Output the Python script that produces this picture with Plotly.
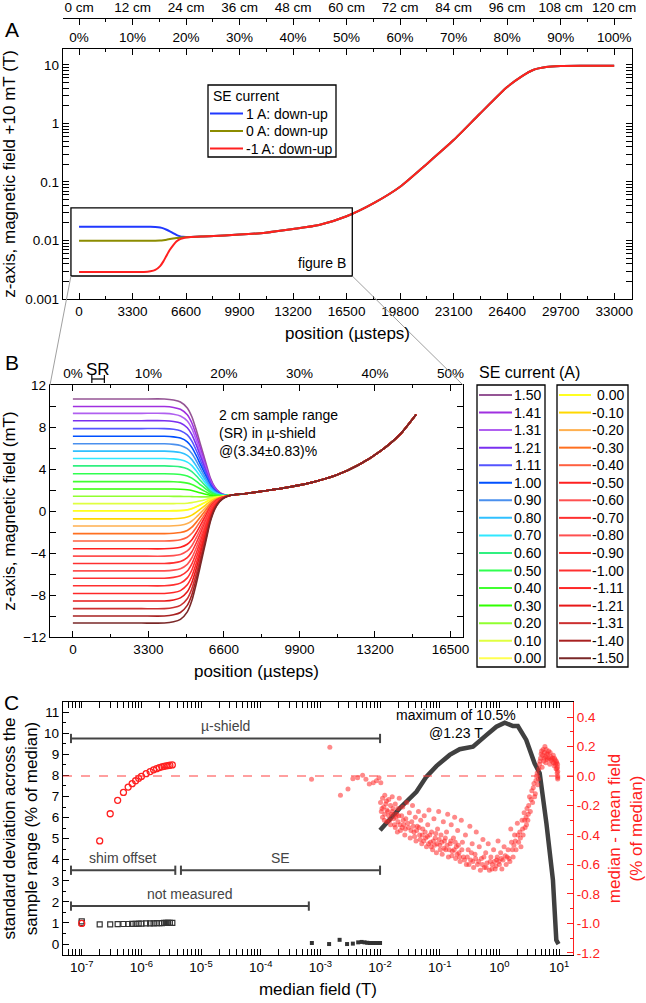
import math
import plotly.graph_objects as go

W, H = 646, 1003
FONT = "Liberation Sans, Arial, sans-serif"

def px(x):
    return x / W

def py(y):
    return 1 - y / H

# ---------------- Panel A data ----------------
A_X = [0, 2000, 4000, 4400, 4700, 5000, 5200, 5400, 5600, 5800, 6000, 6200, 6400, 6600, 6900,
       8000, 9900, 11500, 13200, 14800, 16500, 18200, 19800, 21500, 23100, 24700, 26400, 27300,
       28000, 28800, 29700, 31000, 33000]
A_BLEND = [1, 1, 1, 0.99, 0.97, 0.91, 0.82, 0.68, 0.52, 0.36, 0.2, 0.1, 0.045, 0.015, 0,
           0, 0, 0, 0, 0, 0, 0, 0, 0, 0, 0, 0, 0, 0, 0, 0, 0, 0]
A_TAIL = [0.0111, 0.0111, 0.0111, 0.0111, 0.0111, 0.0112, 0.0112, 0.0112, 0.0113, 0.0113, 0.0113,
          0.0113, 0.0113, 0.0114, 0.0115, 0.0118, 0.0126, 0.0136, 0.0157, 0.0184, 0.026, 0.044,
          0.083, 0.21, 0.52, 1.45, 4.2, 6.4, 8.2, 9.2, 9.6, 9.7, 9.7]
A_NAMES = ["1 A: down-up", "0 A: down-up", "-1 A: down-up"]
A_PLATEAU = [0.0172, 0.0099, 0.0029]
A_COLORS = ["#2038ff", "#8c8c00", "#ff2020"]

# ---------------- Panel B data ----------------
B_X = [0, 1000, 2000, 3000, 4000, 4400, 4700, 5000, 5200, 5400, 5600, 5800, 6000, 6200, 6400,
       6600, 6900, 7500, 8500, 9500, 10500, 11500, 12500, 13500, 14300, 15000]
B_BLEND = [1, 1, 1, 1, 1, 0.99, 0.97, 0.91, 0.82, 0.68, 0.52, 0.36, 0.2, 0.1, 0.045, 0.015,
           0, 0, 0, 0, 0, 0, 0, 0, 0, 0]
B_TAIL = [1.1, 1.1, 1.1, 1.1, 1.1, 1.12, 1.15, 1.2, 1.23, 1.26, 1.28, 1.31, 1.33, 1.36, 1.39,
          1.42, 1.5, 1.65, 1.95, 2.3, 2.75, 3.4, 4.4, 5.8, 7.3, 9.2]
B_LABELS_1 = ["1.50", "1.41", "1.31", "1.21", "1.11", "1.00", "0.90", "0.80", "0.70", "0.60",
              "0.50", "0.40", "0.30", "0.20", "0.10", "0.00"]
B_PLATEAU_1 = [10.67, 9.95, 9.3, 8.6, 7.85, 7.12, 6.4, 5.7, 5.0, 4.3, 3.55, 2.8, 2.1, 1.4, 0.7, 0.0]
B_COLORS_1 = ["#955595", "#a030e0", "#b060f0", "#7a30f0", "#5555ff", "#0050ff", "#4a90ee",
              "#30c0ff", "#30e8ff", "#30f080", "#30ff50", "#40ff30", "#30ff00", "#90ff30",
              "#e0ff40", "#ffff50"]
B_LABELS_2 = ["0.00", "-0.10", "-0.20", "-0.30", "-0.40", "-0.50", "-0.60", "-0.70", "-0.80",
              "-0.90", "-1.00", "-1.11", "-1.21", "-1.31", "-1.40", "-1.50"]
B_PLATEAU_2 = [0.02, -0.75, -1.43, -2.15, -2.86, -3.6, -4.3, -5.0, -5.7, -6.4, -7.12, -7.85,
               -8.57, -9.3, -10.0, -10.67]
B_COLORS_2 = ["#ffff20", "#ffd800", "#ffb050", "#ff7020", "#ff6040", "#ff2020", "#ff5050",
              "#ff3030", "#ff5050", "#ff3030", "#ff3030", "#ff2828", "#e81818", "#cc3030",
              "#a82020", "#7a2828"]
SR_CENTER, SR_ERR = 3.34, 0.83  # percent

# ---------------- Panel C data ----------------
C_SQ_X = [1e-7, 1e-7, 2e-7, 3e-7, 4e-7, 5e-7, 6e-7, 7e-7, 8e-7, 9e-7, 1e-6, 1.2e-6, 1.4e-6,
          1.6e-6, 1.8e-6, 2.0e-6, 2.2e-6, 2.4e-6, 2.6e-6, 2.8e-6, 3.0e-6, 3.3e-6]
C_SQ_Y = [1.08, 1.0, 0.93, 0.93, 0.94, 0.95, 0.95, 0.96, 0.96, 0.97, 0.97, 0.98, 0.98, 0.98,
          0.99, 0.99, 0.99, 1.0, 1.0, 1.0, 1.0, 1.0]
C_FS_X = [7.2e-4, 1.4e-3, 2.1e-3, 2.8e-3, 3.5e-3, 4.3e-3, 4.9e-3, 5.5e-3, 6.1e-3, 6.7e-3,
          7.3e-3, 8.0e-3, 8.7e-3, 9.4e-3, 1.0e-2]
C_FS_Y = [0.05, 0.0, 0.2, 0.0, 0.02, 0.08, 0.1, 0.08, 0.06, 0.05, 0.05, 0.05, 0.05, 0.05, 0.05]
C_LINE_X = [0.01, 0.0214, 0.0407, 0.06, 0.088, 0.147, 0.216, 0.361, 0.605, 0.89, 1.23, 1.69,
            2.04, 2.82, 3.89, 4.74, 6.14, 7.9, 9.0, 9.8]
C_LINE_Y = [5.4, 6.44, 7.22, 7.94, 8.44, 8.97, 9.24, 9.36, 9.91, 10.31, 10.5, 10.34, 10.34,
            9.68, 8.57, 8.1, 5.73, 3.04, 0.19, 0.0]
C_RC_X = [1e-7, 2e-7, 3e-7, 4e-7, 5e-7, 6e-7, 7e-7, 8e-7, 9e-7, 1e-6, 1.2e-6, 1.4e-6, 1.6e-6,
          1.8e-6, 2.0e-6, 2.2e-6, 2.4e-6, 2.6e-6, 2.8e-6, 3.0e-6, 3.3e-6]
C_RC_Y = [-1.0, -0.44, -0.256, -0.165, -0.111, -0.075, -0.052, -0.032, -0.016, -0.003, 0.016,
          0.03, 0.042, 0.05, 0.057, 0.062, 0.066, 0.069, 0.071, 0.073, 0.075]
C_DOT_X = [7.1e-4, 1.44e-3, 2.17e-3, 2.9e-3, 3.5e-3, 4.2e-3, 5.1e-3, 5.8e-3, 6.6e-3, 7.7e-3,
           8.7e-3, 9.6e-3, 1.03e-2,
           0.0102, 0.0105, 0.011, 0.011, 0.0115, 0.012, 0.012, 0.0125, 0.013, 0.013, 0.014, 0.014,
           0.015, 0.015, 0.016, 0.016, 0.017, 0.018, 0.018, 0.019, 0.02, 0.02, 0.021,
           0.022, 0.023, 0.024, 0.025, 0.026, 0.027, 0.028, 0.03, 0.031, 0.032, 0.034, 0.035,
           0.037, 0.039, 0.04, 0.042, 0.044, 0.046, 0.048,
           0.05, 0.052, 0.055, 0.058, 0.06, 0.063, 0.066, 0.07, 0.073, 0.076, 0.08, 0.084, 0.088,
           0.092, 0.096, 0.1, 0.105, 0.11, 0.115, 0.12, 0.126, 0.13, 0.136, 0.14, 0.15, 0.156,
           0.163, 0.17, 0.178, 0.185, 0.19,
           0.2, 0.21, 0.22, 0.23, 0.24, 0.25, 0.27, 0.28, 0.3, 0.32, 0.33, 0.35, 0.37, 0.39, 0.41,
           0.43, 0.46, 0.48, 0.5, 0.53, 0.56, 0.59, 0.62, 0.65, 0.68, 0.72, 0.76, 0.8, 0.85, 0.9,
           0.95,
           1.0, 1.05, 1.1, 1.15, 1.2, 1.3, 1.35, 1.4, 1.5, 1.55, 1.6, 1.7, 1.8, 1.9, 2.0, 2.1, 2.2,
           2.3, 2.4, 2.5, 2.6, 2.7, 2.8, 2.9, 3.0, 3.1, 3.2, 3.3, 3.5, 3.6, 3.8, 4.0, 4.2, 4.4,
           4.6, 4.8, 5.0, 5.2, 5.4, 5.6, 5.8, 6.0, 6.2, 6.4, 6.7, 7.0, 7.3, 7.6, 8.0, 8.3, 8.6,
           8.9, 9.1, 9.3, 9.4, 9.5, 9.5,
           0.0108, 0.0118, 0.0128, 0.0135, 0.0145, 0.0155, 0.0165, 0.0175, 0.0185, 0.0195, 0.0205,
           0.0215, 0.0235, 0.0245, 0.0265, 0.029, 0.033, 0.036, 0.038, 0.041, 0.045, 0.047, 0.051,
           0.054, 0.057, 0.062, 0.065, 0.068, 0.072, 0.078, 0.082, 0.086, 0.09, 0.098, 0.102,
           0.108, 0.118, 0.124, 0.133, 0.145, 0.153, 0.16, 0.175, 0.182, 0.195, 0.205, 0.215,
           0.235, 0.26, 0.29, 0.31, 0.34, 0.36, 0.4, 0.45, 0.52, 0.55, 0.6, 0.7, 0.75, 0.82, 0.88,
           0.92, 0.98, 1.08, 1.25, 1.45, 1.65, 1.75, 1.85, 2.05, 2.25, 2.45, 2.65, 2.85, 3.05, 3.4,
           3.7, 3.9, 4.1, 4.3, 4.5, 4.7, 4.9, 5.1, 5.3, 5.5, 5.7, 5.9, 6.1, 6.3, 6.5, 6.8, 7.1,
           7.4, 7.8, 8.1, 8.4, 8.7, 9.0, 9.2, 9.45, 9.5, 9.5]
C_DOT_Y = [-0.022, 0.195, -0.131, -0.088, -0.018, -0.011, 0.005, -0.022, -0.054, -0.045,
           -0.032, -0.011, -0.045,
           -0.18, -0.24, -0.15, -0.28, -0.21, -0.13, -0.26, -0.19, -0.31, -0.23, -0.16, -0.27,
           -0.2, -0.33, -0.24, -0.14, -0.29, -0.19, -0.35, -0.26, -0.22, -0.31, -0.15,
           -0.37, -0.27, -0.21, -0.33, -0.4, -0.29, -0.18, -0.35, -0.25, -0.42, -0.31, -0.2,
           -0.38, -0.28, -0.44, -0.34, -0.24, -0.4, -0.3,
           -0.46, -0.36, -0.27, -0.42, -0.48, -0.33, -0.23, -0.45, -0.38, -0.5, -0.29, -0.42,
           -0.52, -0.36, -0.24, -0.47, -0.4, -0.53, -0.31, -0.44, -0.5, -0.38, -0.26, -0.55,
           -0.46, -0.33, -0.51, -0.42, -0.28, -0.56, -0.48,
           -0.37, -0.52, -0.58, -0.3, -0.45, -0.55, -0.4, -0.6, -0.5, -0.34, -0.57, -0.46, -0.62,
           -0.53, -0.38, -0.6, -0.48, -0.64, -0.56, -0.43, -0.62, -0.52, -0.59, -0.46, -0.64,
           -0.55, -0.6, -0.5, -0.63, -0.57, -0.44,
           -0.6, -0.52, -0.63, -0.57, -0.48, -0.6, -0.55, -0.5, -0.58, -0.36, -0.45, -0.55, -0.4,
           -0.5, -0.32, -0.45, -0.38, -0.48, -0.3, -0.4, -0.25, -0.35, -0.28, -0.22, -0.3, -0.2,
           -0.14, -0.24, -0.1, -0.18, -0.05, -0.12, 0.0, -0.06, 0.05, 0.1, 0.15, 0.06, 0.18, 0.12,
           0.2, 0.09, 0.15, 0.11, 0.17, 0.08, 0.13, 0.1, 0.14, 0.07, 0.11, 0.05, 0.09, 0.02, 0.06,
           -0.02, 0.0,
           -0.22, -0.3, -0.17, -0.24, -0.3, -0.26, -0.22, -0.33, -0.28, -0.38, -0.27,
           -0.33, -0.35, -0.3, -0.36, -0.32, -0.37, -0.34, -0.41, -0.37, -0.35, -0.43, -0.4,
           -0.44, -0.38, -0.41, -0.46, -0.4, -0.48, -0.44, -0.47, -0.39, -0.46, -0.43, -0.5,
           -0.45, -0.49, -0.42, -0.47, -0.5, -0.44, -0.54, -0.5, -0.45, -0.53, -0.47, -0.55,
           -0.5, -0.57, -0.55, -0.6, -0.52, -0.58, -0.56, -0.58, -0.6, -0.55, -0.62, -0.58, -0.63,
           -0.58, -0.61, -0.55, -0.58, -0.56, -0.54, -0.56, -0.5, -0.47, -0.44, -0.4, -0.42, -0.36,
           -0.3, -0.33, -0.26, -0.16, -0.08, -0.14, -0.03, 0.02, -0.02, 0.08, 0.12, 0.17, 0.14,
           0.1, 0.16, 0.13, 0.18, 0.12, 0.15, 0.12, 0.16, 0.11, 0.12, 0.09, 0.12, 0.08, 0.1, 0.05,
           0.08, 0.03, -0.01]
C_BR_LABELS = ["µ-shield", "shim offset", "SE", "not measured"]
C_BR_X0 = [6.6e-8, 6.6e-8, 4.6e-6, 6.6e-8]
C_BR_X1 = [1e-2, 3.7e-6, 1e-2, 6.4e-4]
C_BR_Y = [9.75, 3.5, 3.5, 1.8]

# ---------------- geometry (pixels) ----------------
A_L, A_R, A_T, A_B = 63, 632, 49, 299
B_L, B_R, B_T, B_B = 50, 463, 385, 637
C_L, C_R, C_T, C_B = 63, 573, 702, 955
A_XR = [-990, 34100]
A_YR = [-3, 1.273]
B_XR = [-1000, 17050]
C_XR = [-7.314, 1.234]
C_YR = [-0.52, 11.48]
C_Y2R = [-1.214, 0.502]
STEPS_PER_PERCENT = 330
STEPS_PER_CM = 275

fig = go.Figure()

# Panel A traces
for name, plat, col in zip(A_NAMES, A_PLATEAU, A_COLORS):
    yv = [plat * b + t * (1 - b) for b, t in zip(A_BLEND, A_TAIL)]
    fig.add_trace(go.Scatter(x=A_X, y=yv, mode="lines", name=name, showlegend=False,
                             line=dict(color=col, width=2, shape="spline", smoothing=0.6),
                             xaxis="x", yaxis="y"))

# inset rectangle in A (figure B)
RX0, RX1, RY0, RY1 = -500, 16850, 0.00247, 0.036
fig.add_trace(go.Scatter(x=[RX0, RX1, RX1, RX0, RX0], y=[RY0, RY0, RY1, RY1, RY0], mode="lines",
                         line=dict(color="black", width=1.3), showlegend=False, hoverinfo="skip",
                         xaxis="x", yaxis="y"))

# empty traces so the secondary (top) axes are active
for xa, ya, rng in [("x2", "y", [0, 100]), ("x3", "y", [0, 120]), ("x7", "y", [0, 100]),
                    ("x5", "y4", [0, 50])]:
    fig.add_trace(go.Scatter(x=rng, y=[None, None], mode="markers", showlegend=False,
                             hoverinfo="skip", xaxis=xa, yaxis=ya))

# Panel B traces
for labels, plats, cols in [(B_LABELS_1, B_PLATEAU_1, B_COLORS_1),
                            (B_LABELS_2, B_PLATEAU_2, B_COLORS_2)]:
    for lab, plat, col in zip(labels, plats, cols):
        yv = [plat * b + t * (1 - b) for b, t in zip(B_BLEND, B_TAIL)]
        fig.add_trace(go.Scatter(x=B_X, y=yv, mode="lines", name=lab, showlegend=False,
                                 line=dict(color=col, width=1.6, shape="spline", smoothing=0.6),
                                 xaxis="x4", yaxis="y4"))

# Panel C traces
fig.add_trace(go.Scatter(x=C_DOT_X, y=C_DOT_Y, mode="markers", showlegend=False,
                         marker=dict(color="rgba(255,40,40,0.55)", size=5), xaxis="x6", yaxis="y7"))
fig.add_trace(go.Scatter(x=C_SQ_X, y=C_SQ_Y, mode="markers", showlegend=False,
                         marker=dict(symbol="square-open", color="#333333", size=5, line=dict(width=1.2)),
                         xaxis="x6", yaxis="y6"))
fig.add_trace(go.Scatter(x=C_FS_X, y=C_FS_Y, mode="markers", showlegend=False,
                         marker=dict(symbol="square", color="#333333", size=4),
                         xaxis="x6", yaxis="y6"))
fig.add_trace(go.Scatter(x=C_LINE_X, y=C_LINE_Y, mode="lines", showlegend=False,
                         line=dict(color="#404040", width=4.5), xaxis="x6", yaxis="y6"))
fig.add_trace(go.Scatter(x=C_RC_X, y=C_RC_Y, mode="markers", showlegend=False,
                         marker=dict(symbol="circle-open", color="#ff2020", size=6, line=dict(width=1.3)),
                         xaxis="x6", yaxis="y7"))

# brackets in C
for lab, x0, x1, yb in zip(C_BR_LABELS, C_BR_X0, C_BR_X1, C_BR_Y):
    fig.add_trace(go.Scatter(x=[x0, x1, None, x0, x0, None, x1, x1],
                             y=[yb, yb, None, yb - 0.22, yb + 0.22, None, yb - 0.22, yb + 0.22],
                             mode="lines", line=dict(color="#444444", width=2), showlegend=False,
                             hoverinfo="skip", xaxis="x6", yaxis="y6"))

annotations = []
shapes = []
for lab, x0, x1, yb in zip(C_BR_LABELS, C_BR_X0, C_BR_X1, C_BR_Y):
    annotations.append(dict(x=(math.log10(x0) + math.log10(x1)) / 2, y=yb + 0.12, xref="x6", yref="y6",
                            text=lab, showarrow=False, xanchor="center", yanchor="bottom",
                            font=dict(size=14, color="#444444")))

def paper_text(x, y, text, size=14, color="black", xanchor="center", align="center"):
    annotations.append(dict(x=px(x), y=py(y), xref="paper", yref="paper", text=text,
                            showarrow=False, xanchor=xanchor, yanchor="middle", align=align,
                            font=dict(size=size, color=color)))

paper_text(12, 30, "A", 21)
paper_text(12, 362, "B", 21)
paper_text(11, 702, "C", 21)
paper_text(348, 263, "figure B", xanchor="right")
paper_text(217, 433, "2 cm sample range<br>(SR) in µ-shield<br>@(3.34±0.83)%", xanchor="left", align="left")
annotations.append(dict(x=SR_CENTER, y=py(369), xref="x5", yref="paper", text="SR", showarrow=False,
                        xanchor="center", yanchor="middle", font=dict(size=17, color="black")))
annotations.append(dict(x=-0.73, y=10.42, xref="x6", yref="y6", text="maximum of 10.5%<br>@1.23 T",
                        showarrow=False, xanchor="center", yanchor="middle",
                        font=dict(size=14, color="black")))

# ---- legends (drawn as text + line samples) ----
def box(x0, y0, x1, y1):
    shapes.append(dict(type="rect", xref="paper", yref="paper", x0=px(x0), x1=px(x1),
                       y0=py(y1), y1=py(y0), line=dict(color="black", width=1.3),
                       fillcolor="white", layer="above"))

def entry(x_line0, x_line1, x_text, y, color, text, anchor):
    shapes.append(dict(type="line", xref="paper", yref="paper", x0=px(x_line0), x1=px(x_line1),
                       y0=py(y), y1=py(y), line=dict(color=color, width=2), layer="above"))
    paper_text(x_text, y, text, xanchor=anchor)

# legend A
box(208, 85, 336, 157)
paper_text(211, 96, "SE current", xanchor="left")
for i, (name, col) in enumerate(zip(A_NAMES, A_COLORS)):
    entry(210, 243, 244, 113.5 + 17.5 * i, col, name, "left")

# legend B
paper_text(529, 372, "SE current (A)", 16)
box(477, 385, 545, 667)
box(557, 385, 628, 667)
for i, (lab, col) in enumerate(zip(B_LABELS_1, B_COLORS_1)):
    entry(479, 512, 543, 395 + 17.55 * i, col, lab, "right")
for i, (lab, col) in enumerate(zip(B_LABELS_2, B_COLORS_2)):
    entry(559, 591, 626, 395 + 17.55 * i, col, lab, "right")

# SR bracket
SRy = py(379)
for xa, xb, ya, yb2 in [(SR_CENTER - SR_ERR, SR_CENTER + SR_ERR, SRy, SRy),
                        (SR_CENTER - SR_ERR, SR_CENTER - SR_ERR, SRy - 0.004, SRy + 0.004),
                        (SR_CENTER + SR_ERR, SR_CENTER + SR_ERR, SRy - 0.004, SRy + 0.004)]:
    shapes.append(dict(type="line", xref="x5", yref="paper", x0=xa, x1=xb, y0=ya, y1=yb2,
                       line=dict(color="black", width=1.2)))

# connector lines from inset rect to panel B
def a_xpix(v):
    return A_L + (v - A_XR[0]) / (A_XR[1] - A_XR[0]) * (A_R - A_L)

def a_ypix(v):
    return A_B - (math.log10(v) - A_YR[0]) / (A_YR[1] - A_YR[0]) * (A_B - A_T)

for (xa, ya), (xb, yb2) in [((a_xpix(RX0), a_ypix(RY0)), (B_L, B_T)),
                            ((a_xpix(RX1), a_ypix(RY0)), (B_R, B_T))]:
    shapes.append(dict(type="line", xref="paper", yref="paper", x0=px(xa), y0=py(ya),
                       x1=px(xb), y1=py(yb2), line=dict(color="#a0a0a0", width=1)))

# dashed zero line for the right axis of C
shapes.append(dict(type="line", xref="paper", yref="y7", x0=px(C_L), x1=px(C_R), y0=0, y1=0,
                   line=dict(color="#ff4040", width=1.2, dash="dash")))

tickfont = dict(size=13.5, color="black", family=FONT)
common = dict(showline=True, linecolor="black", linewidth=1.3, ticks="inside", ticklen=6,
              tickwidth=1.2, tickcolor="black", showgrid=False, zeroline=False, tickfont=tickfont,
              automargin=False)

def minor_ticks(vals, color="black"):
    return dict(tickmode="array", tickvals=vals, ticks="inside", ticklen=3, tickcolor=color)

def log_minor(lo, hi):
    vals = []
    for e in range(lo, hi + 1):
        for m in range(2, 10):
            vals.append(m * 10 ** e)
    return vals

A_TICKS = list(range(0, 33001, 3300))
B_TICKS = list(range(0, 16501, 3300))
PCT_A = list(range(0, 101, 10))
PCT_B = list(range(0, 51, 10))
CM_A = list(range(0, 121, 12))
PCT_RANGE_A = [A_XR[0] / STEPS_PER_PERCENT, A_XR[1] / STEPS_PER_PERCENT]

layout_axes = dict(
    xaxis=dict(domain=[px(A_L), px(A_R)], anchor="y", range=A_XR,
               tickmode="array", tickvals=A_TICKS, ticktext=[str(v) for v in A_TICKS],
               minor=minor_ticks(list(range(1650, 33000, 3300))),
               title=dict(text="position (µsteps)", font=dict(size=17), standoff=8), **common),
    yaxis=dict(domain=[py(A_B), py(A_T)], anchor="x", type="log", range=A_YR,
               tickmode="array", tickvals=[0.001, 0.01, 0.1, 1, 10],
               ticktext=["0.001", "0.01", "0.1", "1", "10"],
               minor=minor_ticks(log_minor(-3, 1)), mirror="allticks",
               title=dict(text="z-axis, magnetic field +10 mT (T)", font=dict(size=17), standoff=6),
               **common),
    # percent scale: ticks on the box top
    xaxis2=dict(overlaying="x", side="top", anchor="y", range=PCT_RANGE_A,
                tickmode="array", tickvals=PCT_A, showticklabels=False,
                minor=minor_ticks(list(range(5, 100, 10))), **common),
    # percent scale: labels a little above the box
    xaxis7=dict(overlaying="x", side="top", anchor="free", position=py(45), range=PCT_RANGE_A,
                tickmode="array", tickvals=PCT_A, ticktext=["%d%%" % v for v in PCT_A],
                showline=False, ticks="", showgrid=False, zeroline=False, tickfont=tickfont,
                automargin=False),
    xaxis3=dict(overlaying="x", side="top", anchor="free", position=py(18),
                range=[A_XR[0] / STEPS_PER_CM, A_XR[1] / STEPS_PER_CM],
                tickmode="array", tickvals=CM_A, ticktext=["%d cm" % v for v in CM_A],
                minor=minor_ticks(list(range(6, 120, 12))), **common),
    xaxis4=dict(domain=[px(B_L), px(B_R)], anchor="y4", range=B_XR,
                tickmode="array", tickvals=B_TICKS, ticktext=[str(v) for v in B_TICKS],
                minor=minor_ticks(list(range(1650, 17000, 3300))),
                title=dict(text="position (µsteps)", font=dict(size=17), standoff=8), **common),
    yaxis4=dict(domain=[py(B_B), py(B_T)], anchor="x4", range=[-12, 12],
                tickmode="array", tickvals=list(range(-12, 13, 4)),
                minor=minor_ticks(list(range(-10, 11, 4))), mirror="allticks",
                title=dict(text="z-axis, magnetic field (mT)", font=dict(size=17), standoff=6),
                **common),
    xaxis5=dict(overlaying="x4", side="top", anchor="y4",
                range=[B_XR[0] / STEPS_PER_PERCENT, B_XR[1] / STEPS_PER_PERCENT],
                tickmode="array", tickvals=PCT_B, ticktext=["%d%%" % v for v in PCT_B],
                minor=minor_ticks(list(range(5, 50, 10))), **common),
    xaxis6=dict(domain=[px(C_L), px(C_R)], anchor="y6", type="log", range=C_XR,
                tickmode="array", tickvals=[10 ** e for e in range(-7, 2)],
                ticktext=["10<sup>%d</sup>" % e for e in range(-7, 2)],
                minor=minor_ticks(log_minor(-8, 1)), mirror="allticks",
                title=dict(text="median field (T)", font=dict(size=17), standoff=8), **common),
    yaxis6=dict(domain=[py(C_B), py(C_T)], anchor="x6", range=C_YR,
                tickmode="array", tickvals=list(range(0, 12)),
                minor=minor_ticks([i + 0.5 for i in range(-1, 12)]),
                title=dict(text="standard deviation across the<br>sample range (% of median)",
                           font=dict(size=17), standoff=6), **common),
    yaxis7=dict(overlaying="y6", side="right", anchor="x6", range=C_Y2R,
                tickmode="array", tickvals=[-1.2, -1.0, -0.8, -0.6, -0.4, -0.2, 0.0, 0.2, 0.4],
                ticktext=["-1.2", "-1.0", "-0.8", "-0.6", "-0.4", "-0.2", "0.0", "0.2", "0.4"],
                minor=minor_ticks([-1.1, -0.9, -0.7, -0.5, -0.3, -0.1, 0.1, 0.3, 0.5], "#ff2020"),
                showline=True, linecolor="#ff2020", linewidth=1.3, ticks="inside", ticklen=6,
                tickwidth=1.2, tickcolor="#ff2020", showgrid=False, zeroline=False,
                tickfont=dict(size=13.5, color="#ff2020"), automargin=False,
                title=dict(text="median - mean field<br>(% of median)",
                           font=dict(size=17, color="#ff2020"), standoff=14)),
)

fig.update_layout(
    width=W, height=H, margin=dict(l=0, r=0, t=0, b=0),
    paper_bgcolor="white", plot_bgcolor="white", showlegend=False,
    font=dict(family=FONT, color="black", size=14),
    annotations=annotations, shapes=shapes,
    **layout_axes,
)

fig.write_html("out.html")
